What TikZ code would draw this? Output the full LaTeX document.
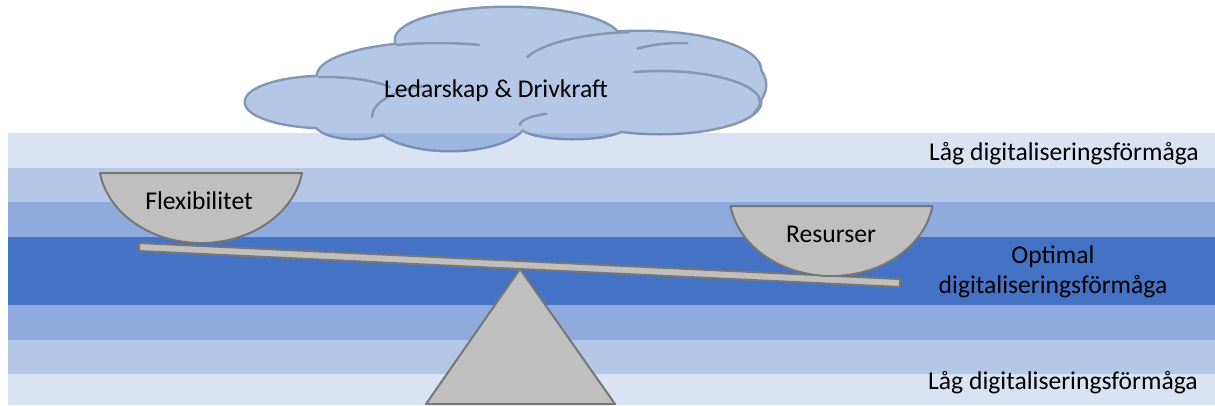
\documentclass[tikz,border=0pt]{standalone}
\usepackage{fontspec}
\setmainfont{Carlito}
\definecolor{bandblue}{HTML}{4472C4}
\definecolor{cloudblue}{HTML}{B4C7E7}
\definecolor{cloudedge}{HTML}{8497B0}
\definecolor{partgray}{HTML}{BFBFBF}
\definecolor{partedge}{HTML}{767676}
\begin{document}
\begin{tikzpicture}[x=1pt,y=-1pt,
  part/.style={fill=partgray, draw=partedge, line width=2pt, line join=round},
  lbl/.style={font=\fontsize{25.6}{30}\selectfont, inner sep=0pt, text=black},
  cloudline/.style={draw=cloudedge, line width=2.5pt, line cap=round},
  band/.style={fill=bandblue, fill opacity=#1}]
\useasboundingbox (0,0) rectangle (1215,405);
% cloud: outer outline
\foreach \cx/\cy/\rx/\ry in {508/40/112/32, 438/76/120/33, 326/102/80/25, 640/70/120/38, 680/85/85/42, 660/102/100/31, 355/122/40/16, 450/117/78/33, 573/125/53/13}
  \draw[cloudedge, line width=5pt] (\cx,\cy) ellipse[x radius=\rx, y radius=\ry];
\foreach \cx/\cy/\rx/\ry in {508/40/112/32, 438/76/120/33, 326/102/80/25, 640/70/120/38, 680/85/85/42, 660/102/100/31, 355/122/40/16, 450/117/78/33, 573/125/53/13, 545/104/45/14}
  \fill[cloudblue] (\cx,\cy) ellipse[x radius=\rx, y radius=\ry];
% cloud: inner arcs
\foreach \cx/\cy/\rx/\ry/\a/\b in {438/76/120/33/-110/-70, 326/102/80/25/-95/-37, 640/70/120/38/-160/-95, 680/85/85/42/-120/-85, 660/102/100/31/-105/20, 450/117/78/33/180/250, 573/125/53/13/180/240}
  \draw[cloudline] ({\cx+\rx*cos(\a)},{\cy+\ry*sin(\a)}) arc[start angle=\a, end angle=\b, x radius=\rx, y radius=\ry];
% bands
\fill[band=0.2] (8,133) rectangle (1215,168);
\fill[band=0.4] (8,168) rectangle (1215,202);
\fill[band=0.6] (8,202) rectangle (1215,237);
\fill[band=1]   (8,237) rectangle (1215,305);
\fill[band=0.6] (8,305) rectangle (1215,340);
\fill[band=0.4] (8,340) rectangle (1215,374);
\fill[band=0.2] (8,374) rectangle (1215,405);
% fulcrum
\draw[part] (520,269) -- (615,404) -- (426,404) -- cycle;
% beam
\draw[part] (139,243) -- (900,279) -- (900,287) -- (139,251) -- cycle;
% bowls
\draw[part] ({201+102.3*cos(9)},173) arc[start angle=9, end angle=171, x radius=102.3, y radius=83] -- cycle;
\draw[part] ({831.5+102.3*cos(9)},206) arc[start angle=9, end angle=171, x radius=102.3, y radius=83] -- cycle;
% texts
\node[lbl, anchor=base] (cloudtxt) at (496,97) {Ledarskap \& Drivkraft};
\node[lbl, anchor=base] (flex) at (199,209) {Flexibilitet};
\node[lbl, anchor=base] (res) at (831,242) {Resurser};
\node[lbl, anchor=base west] (lowtop) at (929,160) {Låg digitaliseringsförmåga};
\node[lbl, anchor=base west] (lowbot) at (928,389) {Låg digitaliseringsförmåga};
\node[lbl, anchor=base] (opt1) at (1053,263) {Optimal};
\node[lbl, anchor=base] (opt2) at (1053,293) {digitaliseringsförmåga};
\end{tikzpicture}
\end{document}
